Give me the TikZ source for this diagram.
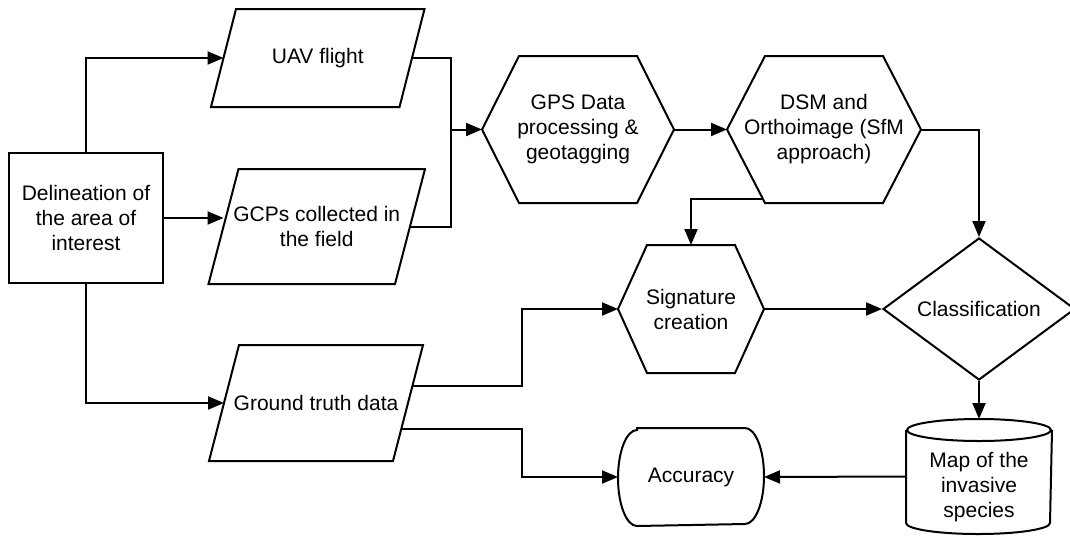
\documentclass[tikz,border=0pt]{standalone}
\usepackage{fontspec}
\setmainfont{Liberation Sans}
\usetikzlibrary{shapes.geometric,arrows.meta}

\begin{document}
\begin{tikzpicture}[x=1pt,y=-1pt,line width=2pt,
	every node/.style={font=\fontsize{21}{25}\selectfont,align=center,inner sep=2pt},
	flow/.style={-{Triangle[length=16pt,width=13pt]}}]
	\path[fill=white,use as bounding box] (0,0) rectangle (1070,536);

	\node[draw,minimum width=154pt,minimum height=130pt] (deli) at (86,218) {Delineation of\\the area of\\interest};
	\node[minimum width=186.5pt,minimum height=96pt] (uav) at (317.75,58) {UAV flight};
	\node[minimum width=184.5pt,minimum height=113pt] (gcp) at (316.75,226.5) {GCPs collected in\\the field};
	\node[minimum width=182pt,minimum height=114pt] (gt) at (316,403) {Ground truth data};
	\node[minimum width=190pt,minimum height=145pt] (gps) at (578,129.5) {GPS Data\\processing \&\\geotagging};
	\node[minimum width=192pt,minimum height=145pt] (dsm) at (824,129.5) {DSM and\\Orthoimage (SfM\\approach)};
	\node[minimum width=144pt,minimum height=126pt] (sig) at (691,309) {Signature\\creation};
	\node[draw,diamond,aspect=1.35,inner sep=0pt,minimum width=192pt,minimum height=142pt] (cls) at (979,309) {Classification};
	\node[minimum width=144pt,minimum height=96pt] (acc) at (691,477) {Accuracy};
	\node[minimum width=144pt,minimum height=91pt] (map) at (979,487.5) {Map of the\\invasive\\species};

	\foreach \n/\d in {uav/12.5,gcp/15,gt/15}
		\draw ([xshift=\d pt]\n.north west) -- ([xshift=\d pt]\n.north east)
			-- ([xshift=-\d pt]\n.south east) -- ([xshift=-\d pt]\n.south west) -- cycle;
	\foreach \n/\d in {gps/37,dsm/38,sig/29}
		\draw ([xshift=\d pt]\n.north west) -- ([xshift=-\d pt]\n.north east) -- (\n.east)
			-- ([xshift=-\d pt]\n.south east) -- ([xshift=\d pt]\n.south west) -- (\n.west) -- cycle;
	\draw ([xshift=19pt]acc.north west) -- ([xshift=-19pt]acc.north east)
		arc[start angle=90,end angle=-90,x radius=19pt,y radius=48pt]
		-- ([xshift=19pt]acc.south west)
		arc[start angle=270,end angle=90,x radius=19pt,y radius=48pt] -- cycle;
	\draw ([yshift=11pt]map.north west) -- ([yshift=11pt]map.south west)
		arc[start angle=180,end angle=360,x radius=72pt,y radius=11pt]
		-- ([yshift=11pt]map.north east);
	\draw ([yshift=11pt]map.north) ellipse[x radius=72pt,y radius=11pt];

	\coordinate (maptop) at ([yshift=22pt]map.north);
	\coordinate (merge) at ([xshift=-31pt]gps.west);

	\draw[flow] (deli.north) |- (uav.west);
	\draw[flow] (deli.east) -- (deli.east -| gcp.west);
	\draw[flow] (deli.south) |- (gt.west);
	\draw (uav.east) -| (merge) |- (gcp.east);
	\draw[flow] (merge) -- (gps.west);
	\draw[flow] (gps.east) -- (dsm.west);
	\draw[flow] (dsm.east) -| (cls.north);
	\draw[flow] ([shift={(36pt,4pt)}]dsm.south west) -| (sig.north);
	\draw[flow] ([shift={(4.5pt,17pt)}]gt.east) -| ([xshift=-96pt]sig.west) -- (sig.west);
	\draw[flow] ([shift={(-6.8pt,-26pt)}]gt.east) -| ([xshift=-96pt]acc.west) -- (acc.west);
	\draw[flow] (sig.east) -- (cls.west);
	\draw[flow] (cls.south) -- (maptop);
	\draw[flow] ([yshift=11pt]map.west) -- (acc.east);
\end{tikzpicture}
\end{document}
